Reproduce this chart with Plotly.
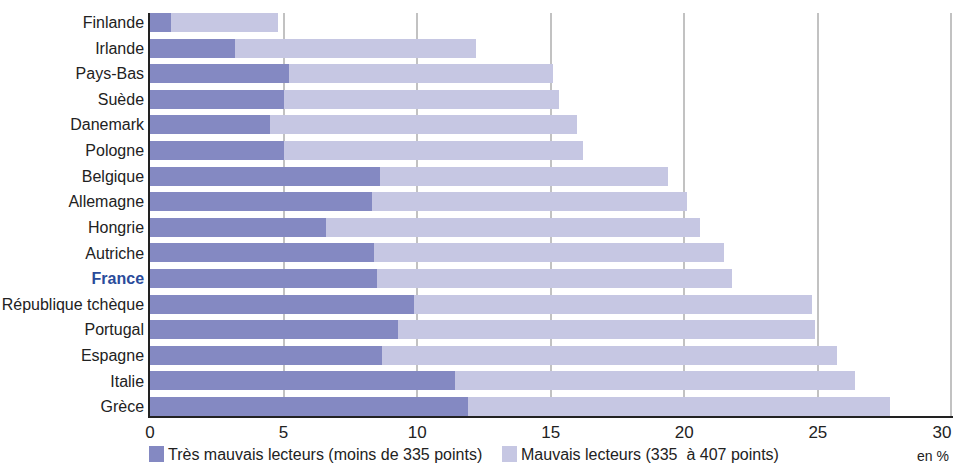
import plotly.graph_objects as go

countries = ["Finlande", "Irlande", "Pays-Bas", "Suède", "Danemark", "Pologne", "Belgique",
             "Allemagne", "Hongrie", "Autriche", "France", "République tchèque", "Portugal",
             "Espagne", "Italie", "Grèce"]
tres_mauvais = [0.8, 3.2, 5.2, 5.0, 4.5, 5.0, 8.6, 8.3, 6.6, 8.4, 8.5, 9.9, 9.3, 8.7, 11.4, 11.9]
total = [4.8, 12.2, 15.1, 15.3, 16.0, 16.2, 19.4, 20.1, 20.6, 21.5, 21.8, 24.8, 24.9, 25.7, 26.4, 27.7]
mauvais = [round(t - d, 1) for t, d in zip(total, tres_mauvais)]

x_ticks = [0, 5, 10, 15, 20, 25, 30]
legend_labels = ["Très mauvais lecteurs (moins de 335 points)",
                 "Mauvais lecteurs (335\u00a0 à 407 points)"]
unit_label = "en %"

DARK = "#8489c2"
LIGHT = "#c6c7e3"
FONT = "Liberation Sans, Arial, sans-serif"

tick_text = ["<b><span style='color:#2a4b9b'>France</span></b>" if c == "France" else c
             for c in countries]
# last tick label kept inside the page (right-aligned look)
x_tick_text = [str(v) for v in x_ticks]
x_tick_text[-1] = x_tick_text[-1] + "\u00a0" * 4

fig = go.Figure()
fig.add_trace(go.Bar(y=countries, x=tres_mauvais, orientation="h", marker_color=DARK,
                     marker_line_width=0, name=legend_labels[0]))
fig.add_trace(go.Bar(y=countries, x=mauvais, orientation="h", marker_color=LIGHT,
                     marker_line_width=0, name=legend_labels[1]))

L, R, T, B = 150, 3, 13, 47
PW, PH = 956 - L - R, 463 - T - B

bargap = 0.26
w = 1 - bargap
fig.update_layout(
    barmode="stack", bargap=bargap,
    width=956, height=463,
    margin=dict(l=L, r=R, t=T, b=B, pad=0, autoexpand=False),
    plot_bgcolor="white", paper_bgcolor="white",
    showlegend=False,
    font=dict(family=FONT, size=17, color="#222222"),
)
fig.update_xaxes(range=[0, 30.06], tickmode="array", tickvals=x_ticks, ticktext=x_tick_text,
                 showgrid=True, gridcolor="#c2c2c2", gridwidth=1.5,
                 showline=True, linecolor="#222222", linewidth=1.5, mirror=False,
                 zeroline=False, ticks="", automargin=False, ticklabeloverflow="allow",
                 tickfont=dict(size=17, color="#222222"))
fig.update_yaxes(type="category", categoryorder="array", categoryarray=countries,
                 range=[len(countries) - 1 + w / 2, -w / 2],
                 tickvals=countries, ticktext=tick_text, automargin=False,
                 showgrid=False, showline=True, linecolor="#222222", linewidth=1.5,
                 ticks="", tickfont=dict(size=16, color="#222222"), ticklabelstandoff=1)

# legend drawn as paper-positioned swatches with labels
sw = [(149, DARK, legend_labels[0]), (502, LIGHT, legend_labels[1])]
for x0, col, lab in sw:
    fig.add_shape(type="rect", xref="paper", yref="paper",
                  x0=(x0 - L) / PW, x1=(x0 + 15 - L) / PW,
                  y0=-(462 - (T + PH)) / PH, y1=-(446 - (T + PH)) / PH,
                  fillcolor=col, line_width=0)
    fig.add_annotation(xref="paper", yref="paper", x=(x0 + 17 - L) / PW,
                       y=-(454 - (T + PH)) / PH, text=lab, showarrow=False,
                       xanchor="left", yanchor="middle",
                       font=dict(size=16, color="#222222"))
fig.add_annotation(xref="paper", yref="paper", x=(951 - L) / PW, y=-(456 - (T + PH)) / PH,
                   text=unit_label, showarrow=False, xanchor="right", yanchor="middle",
                   font=dict(size=14, color="#222222"))

fig.write_html("out.html", config={"displayModeBar": False},
               post_script="document.body.style.margin='0';")
